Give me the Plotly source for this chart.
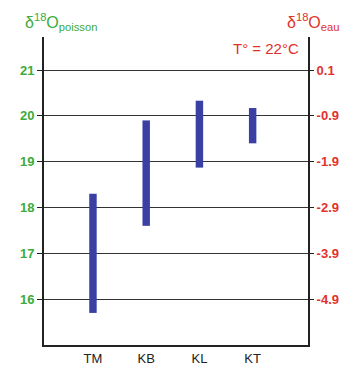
import plotly.graph_objects as go

categories = ["TM", "KB", "KL", "KT"]
low_values = [15.7, 17.6, 18.87, 19.4]
high_values = [18.3, 19.9, 20.33, 20.17]
left_ticks = [16, 17, 18, 19, 20, 21]
right_ticks = [-4.9, -3.9, -2.9, -1.9, -0.9, 0.1]

GREEN = "#3cab3c"
RED = "#e2312b"
BAR = "#3a3fa3"
OFFSET = 20.9

xs = list(range(len(categories)))
fig = go.Figure()
fig.add_trace(go.Bar(
    x=xs, base=low_values,
    y=[h - l for h, l in zip(high_values, low_values)],
    width=0.14, marker=dict(color=BAR, line=dict(width=0)),
    showlegend=False, hoverinfo="skip",
))
fig.add_trace(go.Scatter(x=[0], y=[right_ticks[0]], yaxis="y2", mode="markers",
                         marker=dict(opacity=0), showlegend=False, hoverinfo="skip"))

ymin, ymax = 15.0, 21.72
fig.update_layout(
    width=348, height=365,
    margin=dict(l=44, r=40, t=37, b=20, autoexpand=False),
    paper_bgcolor="white", plot_bgcolor="white",
    font=dict(family="Liberation Sans, Arial, sans-serif", size=12),
    xaxis=dict(
        range=[-0.92, 4.04], tickmode="array", tickvals=xs, ticktext=categories,
        showgrid=False, zeroline=False, showline=True, linecolor="#222", linewidth=2,
        ticks="", tickfont=dict(color="#222", size=13), automargin=False,
    ),
    yaxis=dict(
        range=[ymin, ymax], tickmode="array", tickvals=left_ticks,
        ticktext=[str(t) for t in left_ticks],
        showgrid=True, gridcolor="#333", gridwidth=1, zeroline=False,
        showline=True, linecolor="#222", linewidth=2,
        ticks="outside", ticklen=5, tickcolor="#222", automargin=False,
        tickfont=dict(color=GREEN, size=13, weight="bold"),
    ),
    yaxis2=dict(
        range=[ymin - OFFSET, ymax - OFFSET], overlaying="y", side="right",
        tickmode="array", tickvals=right_ticks,
        ticktext=[f"{t:.1f}" for t in right_ticks],
        showgrid=False, zeroline=False, showline=True, linecolor="#222", linewidth=2,
        ticks="outside", ticklen=4, tickcolor="#222", automargin=False,
        tickfont=dict(color=RED, size=13, weight="bold"),
    ),
    annotations=[
        dict(text="δ<sup>18</sup>O<sub>poisson</sub>", xref="paper", yref="paper",
             x=-0.08, y=1.005, xanchor="left", yanchor="bottom", showarrow=False,
             font=dict(color=GREEN, size=16)),
        dict(text="δ<sup>18</sup>O<sub>eau</sub>", xref="paper", yref="paper",
             x=0.912, y=1.005, xanchor="left", yanchor="bottom", showarrow=False,
             font=dict(color=RED, size=16)),
        dict(text="T° = 22°C", xref="paper", yref="paper",
             x=0.975, y=0.962, xanchor="right", yanchor="middle", showarrow=False,
             font=dict(color=RED, size=15)),
    ],
)
fig.write_html("out.html", config={"displayModeBar": False},
               post_script="document.body.style.margin='0';")
